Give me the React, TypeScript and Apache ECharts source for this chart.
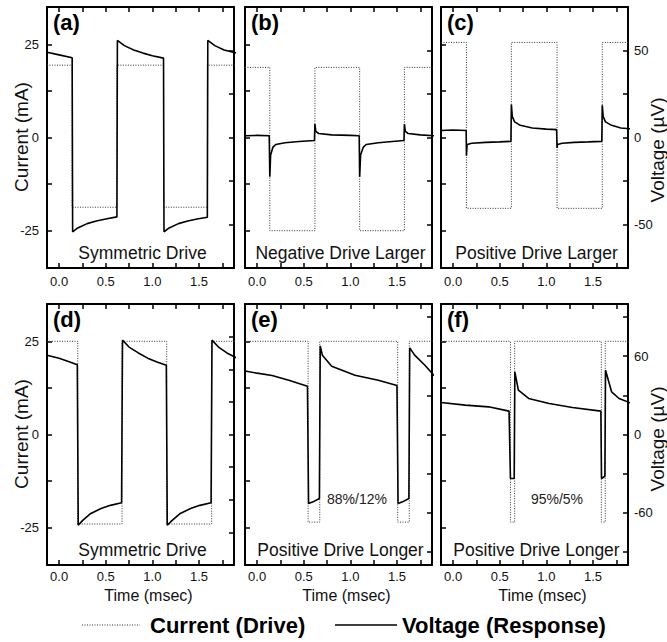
import React, { useEffect, useRef } from "react";
import * as echarts from "echarts";

// ---------- data (time in msec, current in mA, voltage in µV) ----------
const timeTicks = [0, 0.25, 0.5, 0.75, 1, 1.25, 1.5, 1.75];
const timeLabels = [0, 0.5, 1, 1.5];
const currentTicks = [-25, -12.5, 0, 12.5, 25];
const currentLabels = [-25, 0, 25];
const voltTicksTop = [-50, -25, 0, 25, 50];
const voltLabelsTop = [-50, 0, 50];
const voltTicksD = [-75, -50, -25, 0, 25, 50, 75];
const voltTicksEF = [-90, -60, -30, 0, 30, 60, 90];
const voltLabelsBottom = [-60, 0, 60];

const panelNames = ["(a)", "(b)", "(c)", "(d)", "(e)", "(f)"];
const captions = [
  "Symmetric Drive",
  "Negative Drive Larger",
  "Positive Drive Larger",
  "Symmetric Drive",
  "Positive Drive Longer",
  "Positive Drive Longer",
];
const dutyNotes = ["", "", "", "", "88%/12%", "95%/5%"];

const curA = [[-0.13, 19.4], [0.14, 19.4], [0.14, -18.7], [0.62, -18.7], [0.62, 19.4], [1.12, 19.4], [1.12, -18.7], [1.59, -18.7], [1.59, 19.4], [1.9, 19.4]];
const voltA = [[-0.13, 49], [0.0, 47.5], [0.14, 45.8], [0.145, -54.2], [0.2, -52], [0.3, -49.5], [0.4, -48], [0.5, -46.8], [0.62, -45.6], [0.625, 55.8], [0.7, 52.8], [0.8, 50.3], [0.9, 48.5], [1.0, 47], [1.12, 45.6], [1.125, -54.2], [1.18, -52], [1.28, -49.5], [1.38, -48], [1.48, -46.8], [1.59, -45.8], [1.595, 55.8], [1.67, 52.8], [1.77, 50.3], [1.9, 48.6]];

const curB = [[-0.13, 18.8], [0.136, 18.8], [0.136, -25], [0.62, -25], [0.62, 18.8], [1.1, 18.8], [1.1, -25], [1.58, -25], [1.58, 18.8], [1.9, 18.8]];
const voltB = [[-0.13, 1], [0.0, 1.2], [0.13, 1], [0.136, -22.5], [0.145, -10], [0.17, -5.5], [0.2, -4], [0.3, -3], [0.45, -2.3], [0.615, -1.7], [0.62, 7.7], [0.63, 3.5], [0.66, 2.3], [0.8, 1.5], [1.0, 1.2], [1.095, 1], [1.1, -22.5], [1.11, -10], [1.14, -5.5], [1.17, -4], [1.3, -3], [1.45, -2.3], [1.575, -1.7], [1.58, 7.7], [1.59, 3.5], [1.62, 2.3], [1.75, 1.5], [1.9, 1]];

const curC = [[-0.13, 25.5], [0.143, 25.5], [0.143, -19], [0.625, -19], [0.625, 25.5], [1.115, 25.5], [1.115, -19], [1.6, -19], [1.6, 25.5], [1.9, 25.5]];
const voltC = [[-0.13, 4], [0.0, 4.3], [0.14, 4], [0.143, -10.5], [0.15, -4], [0.2, -3.3], [0.35, -2.8], [0.5, -2.5], [0.62, -2.2], [0.625, 18.9], [0.635, 12], [0.66, 9], [0.72, 7], [0.85, 5.5], [1.0, 4.8], [1.11, 4.5], [1.115, -6], [1.12, -4], [1.17, -3.3], [1.3, -2.8], [1.45, -2.5], [1.595, -2.2], [1.6, 18.5], [1.61, 12], [1.635, 9], [1.7, 7], [1.8, 5.5], [1.9, 5]];

const curD = [[-0.13, 25], [0.2, 25], [0.2, -24], [0.675, -24], [0.675, 25], [1.154, 25], [1.154, -24], [1.636, -24], [1.636, 25], [1.9, 25]];
const voltD = [[-0.13, 60.8], [0.0, 58.5], [0.1, 56], [0.195, 53.5], [0.205, -69.5], [0.25, -66], [0.34, -60.5], [0.45, -56.7], [0.55, -54.3], [0.67, -52.3], [0.68, 72.3], [0.75, 67], [0.85, 62.5], [0.95, 58.5], [1.05, 55.5], [1.15, 53.1], [1.16, -69.5], [1.21, -66], [1.3, -60.5], [1.41, -56.7], [1.51, -54.3], [1.63, -52.3], [1.64, 72.3], [1.71, 67], [1.8, 62.5], [1.9, 58.8]];

const curE = [[-0.13, 25], [0.547, 25], [0.547, -23.5], [0.672, -23.5], [0.672, 25], [1.508, 25], [1.508, -23.5], [1.632, -23.5], [1.632, 25], [1.9, 25]];
const voltE = [[-0.13, 48.7], [0.0, 47], [0.16, 45.2], [0.34, 41.6], [0.54, 37], [0.552, -52.9], [0.6, -51.6], [0.668, -49], [0.677, 67.9], [0.7, 60.8], [0.8, 52.3], [1.05, 45.4], [1.3, 41.6], [1.5, 37.5], [1.512, -52.9], [1.56, -51.6], [1.628, -49], [1.637, 66.4], [1.69, 60.8], [1.8, 53.1], [1.9, 45]];

const curF = [[-0.13, 25], [0.615, 25], [0.615, -23.5], [0.66, -23.5], [0.66, 25], [1.59, 25], [1.59, -23.5], [1.632, -23.5], [1.632, 25], [1.92, 25]];
const voltF = [[-0.13, 24.5], [0.13, 22.5], [0.38, 21.2], [0.6, 17.9], [0.615, -33.7], [0.655, -33.7], [0.662, 48], [0.7, 34], [0.81, 27.6], [1.03, 23.7], [1.28, 20.7], [1.585, 17.9], [1.592, -33.7], [1.628, -32], [1.635, 49.3], [1.7, 32.7], [1.78, 27.6], [1.92, 23.7]];

const currentSeries = [curA, curB, curC, curD, curE, curF];
const voltageSeries = [voltA, voltB, voltC, voltD, voltE, voltF];

// ---------- layout ----------
const FONT = '"Liberation Sans", Arial, sans-serif';
const LEFTS = [47, 245, 441];
const TOPS = [7, 304];
const W = 187;
const H = 261;
const X_MIN = -0.13;
const X_MAX = 1.876;

export default function App() {
  const ref = useRef<HTMLDivElement>(null);
  useEffect(() => {
    if (!ref.current) return;
    const chart = echarts.init(ref.current, undefined, { renderer: "svg" });

    const grids: any[] = [];
    const xAxes: any[] = [];
    const yAxes: any[] = [];
    const series: any[] = [];
    const graphics: any[] = [];

    const frameLine = { show: true, onZero: false, lineStyle: { color: "#000", width: 2 } };

    for (let i = 0; i < 6; i++) {
      const row = Math.floor(i / 3);
      const col = i % 3;
      const left = LEFTS[col];
      const top = TOPS[row];
      grids.push({ left, top, width: W, height: H });

      xAxes.push({
        gridIndex: i, type: "value", position: "bottom", min: X_MIN, max: X_MAX,
        axisLine: frameLine,
        axisTick: { inside: true, length: 5, lineStyle: { color: "#000", width: 1.5 }, customValues: timeTicks },
        axisLabel: { customValues: timeLabels, formatter: (v: number) => v.toFixed(1), fontSize: 13, fontFamily: FONT, color: "#111", margin: row === 0 ? 7 : 5 },
        splitLine: { show: false },
      });
      xAxes.push({
        gridIndex: i, type: "value", position: "top", min: X_MIN, max: X_MAX,
        axisLine: frameLine,
        axisTick: { inside: true, length: 5, lineStyle: { color: "#000", width: 1.5 }, customValues: timeTicks },
        axisLabel: { show: false },
        splitLine: { show: false },
      });

      const showLeft = col === 0;
      yAxes.push({
        gridIndex: i, type: "value", position: "left", min: -35, max: 35,
        axisLine: frameLine,
        axisTick: { inside: true, length: 5, lineStyle: { color: "#000", width: 1.5 }, customValues: currentTicks },
        axisLabel: { show: showLeft, customValues: currentLabels, fontSize: 13, fontFamily: FONT, color: "#111", margin: 8 },
        splitLine: { show: false },
      });

      const vRange = row === 0 ? 75 : 100;
      const vTicks = row === 0 ? voltTicksTop : i === 3 ? voltTicksD : voltTicksEF;
      const vLabels = row === 0 ? voltLabelsTop : voltLabelsBottom;
      yAxes.push({
        gridIndex: i, type: "value", position: "right", min: -vRange, max: vRange,
        axisLine: frameLine,
        axisTick: { inside: true, length: 5, lineStyle: { color: "#000", width: 1.5 }, customValues: vTicks },
        axisLabel: { show: col === 2, customValues: vLabels, fontSize: 13, fontFamily: FONT, color: "#111", margin: 6 },
        splitLine: { show: false },
      });

      series.push({
        type: "line", xAxisIndex: 2 * i, yAxisIndex: 2 * i, data: currentSeries[i],
        showSymbol: false, symbol: "none", silent: true,
        lineStyle: { color: "#333", width: 1, type: [1, 1.5] },
        z: 2,
      });
      series.push({
        type: "line", xAxisIndex: 2 * i, yAxisIndex: 2 * i + 1, data: voltageSeries[i],
        showSymbol: false, symbol: "none", silent: true,
        lineStyle: { color: "#000", width: 1.6 },
        z: 3,
      });

      // panel letter
      graphics.push({
        type: "text", x: left + 6, y: top + 15,
        style: { text: panelNames[i], font: `bold 22px ${FONT}`, fill: "#000", align: "left", verticalAlign: "middle" },
      });
      // caption
      graphics.push({
        type: "text", x: left + W / 2 + 2, y: top + H - 15,
        style: { text: captions[i], font: `17.5px ${FONT}`, fill: "#111", align: "center", verticalAlign: "middle" },
      });
      if (dutyNotes[i]) {
        graphics.push({
          type: "text", x: i === 4 ? 357 : 557, y: 499,
          style: { text: dutyNotes[i], font: `14px ${FONT}`, fill: "#222", align: "center", verticalAlign: "middle" },
        });
      }
    }

    // axis names
    const rotated = (text: string, x: number, y: number) => ({
      type: "text", x, y, rotation: Math.PI / 2,
      style: { text, font: `19px ${FONT}`, fill: "#111", align: "center", verticalAlign: "middle" },
    });
    graphics.push(rotated("Current (mA)", 21, 137));
    graphics.push(rotated("Current (mA)", 21, 434));
    graphics.push(rotated("Voltage (\u00B5V)", 657, 150));
    graphics.push(rotated("Voltage (\u00B5V)", 657, 439));
    for (let c = 0; c < 3; c++) {
      graphics.push({
        type: "text", x: LEFTS[c] + W / 2 + 8, y: 595,
        style: { text: "Time (msec)", font: `16px ${FONT}`, fill: "#111", align: "center", verticalAlign: "middle" },
      });
    }

    // legend
    graphics.push({
      type: "line", shape: { x1: 82, y1: 625, x2: 140, y2: 625 },
      style: { stroke: "#333", lineWidth: 1, lineDash: [1, 1.5] },
    });
    graphics.push({
      type: "text", x: 150, y: 625,
      style: { text: "Current (Drive)", font: `bold 22px ${FONT}`, fill: "#000", align: "left", verticalAlign: "middle" },
    });
    graphics.push({
      type: "line", shape: { x1: 335, y1: 625, x2: 397, y2: 625 },
      style: { stroke: "#000", lineWidth: 1.3 },
    });
    graphics.push({
      type: "text", x: 402, y: 625,
      style: { text: "Voltage (Response)", font: `bold 22px ${FONT}`, fill: "#000", align: "left", verticalAlign: "middle" },
    });

    chart.setOption({
      animation: false,
      backgroundColor: "#fff",
      grid: grids,
      xAxis: xAxes,
      yAxis: yAxes,
      series,
      graphic: graphics,
    });
    return () => chart.dispose();
  }, []);

  return (
    <div
      ref={ref}
      style={{ position: "absolute", left: 0, top: 0, width: 667, height: 642 }}
    />
  );
}
